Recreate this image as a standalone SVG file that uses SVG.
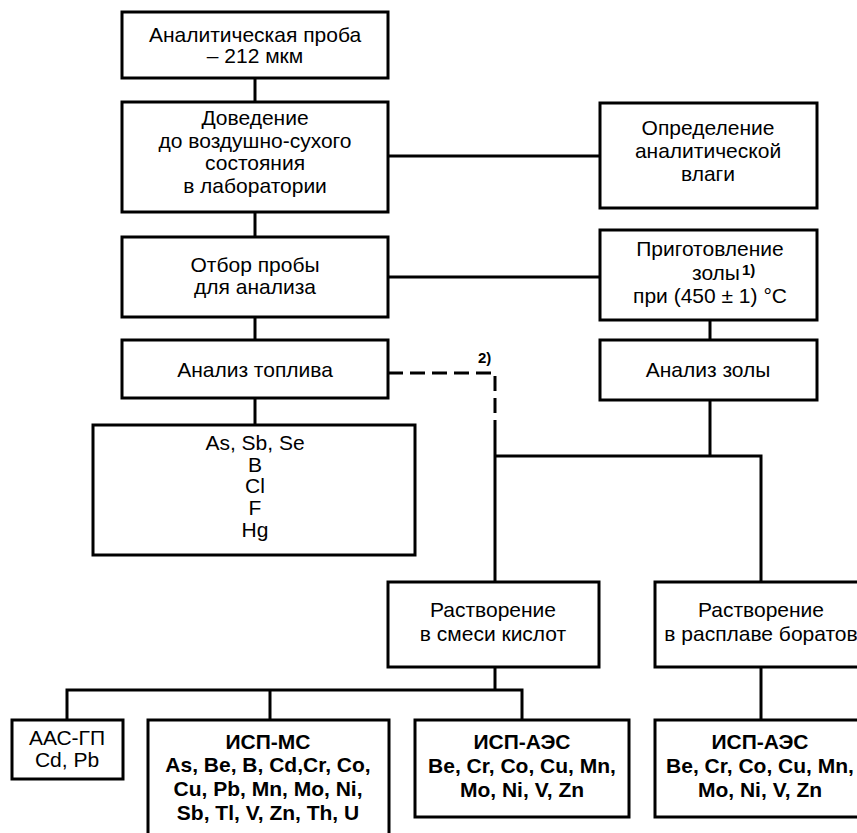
<svg xmlns="http://www.w3.org/2000/svg" width="857" height="833" viewBox="0 0 857 833">
<style>
.box{fill:#fff;stroke:#000;stroke-width:3}
.t{font-family:"Liberation Sans",Arial,sans-serif;font-size:21px;text-anchor:middle;fill:#000}
.b{font-weight:bold;font-size:21px}
.ln{fill:none;stroke:#000;stroke-width:3}
.dash{stroke-dasharray:15 7}
.sup{font-family:"Liberation Sans",Arial,sans-serif;font-size:15px;font-weight:bold;fill:#000}
</style>
<rect width="857" height="833" fill="#fff"/>
<g id="connectors">
<path class="ln" d="M255 78V102"/>
<path class="ln" d="M388 156H600"/>
<path class="ln" d="M255 212V237"/>
<path class="ln" d="M388 277H600"/>
<path class="ln" d="M255 317V340"/>
<path class="ln" d="M710 320V340"/>
<path class="ln" d="M255 398V425"/>
<path class="ln dash" d="M388 373H495V430"/>
<path class="ln" d="M495 430V582"/>
<path class="ln" d="M710 400V456"/>
<path class="ln" d="M495 456H761V582"/>
<path class="ln" d="M495 667V690"/>
<path class="ln" d="M67 720V690H522V720"/>
<path class="ln" d="M270 690V720"/>
<path class="ln" d="M761 667V720"/>
<text class="sup" x="478" y="363">2)</text>
</g>
<g id="n1"><rect class="box" x="122" y="12" width="266" height="66"/>
<text class="t" x="255" y="42">Аналитическая проба</text><text class="t" x="255" y="63">– 212 мкм</text></g>
<g id="n2"><rect class="box" x="122" y="102" width="266" height="110"/>
<text class="t" x="255" y="125">Доведение</text><text class="t" x="255" y="148">до воздушно-сухого</text><text class="t" x="255" y="170">состояния</text><text class="t" x="255" y="193">в лаборатории</text></g>
<g id="n3"><rect class="box" x="600" y="103" width="217" height="105"/>
<text class="t" x="708" y="135">Определение</text><text class="t" x="708" y="158">аналитической</text><text class="t" x="708" y="181">влаги</text></g>
<g id="n4"><rect class="box" x="122" y="237" width="266" height="80"/>
<text class="t" x="255" y="272">Отбор пробы</text><text class="t" x="255" y="294">для анализа</text></g>
<g id="n5"><rect class="box" x="600" y="230" width="217" height="90"/>
<text class="t" x="710" y="256">Приготовление</text><text class="t" x="692" y="280" style="text-anchor:start">золы<tspan class="sup" font-size="13" dx="2" dy="-5">1)</tspan></text><text class="t" x="710" y="303">при (450 ± 1) °C</text></g>
<g id="n6"><rect class="box" x="122" y="340" width="266" height="58"/>
<text class="t" x="255" y="377">Анализ топлива</text></g>
<g id="n7"><rect class="box" x="600" y="340" width="217" height="60"/>
<text class="t" x="708" y="377">Анализ золы</text></g>
<g id="n8"><rect class="box" x="93" y="425" width="322" height="130"/>
<text class="t" x="255" y="450">As, Sb, Se</text><text class="t" x="255" y="472">B</text><text class="t" x="255" y="493">Cl</text><text class="t" x="255" y="515">F</text><text class="t" x="255" y="537">Hg</text></g>
<g id="n9"><rect class="box" x="388" y="582" width="211" height="85"/>
<text class="t" x="493" y="617">Растворение</text><text class="t" x="493" y="641">в смеси кислот</text></g>
<g id="n10"><rect class="box" x="655" y="582" width="212" height="85"/>
<text class="t" x="761" y="617">Растворение</text><text class="t" x="761" y="641">в расплаве боратов</text></g>
<g id="n11"><rect class="box" x="12" y="720" width="111" height="59"/>
<text class="t" x="67" y="745">ААС-ГП</text><text class="t" x="67" y="767">Cd, Pb</text></g>
<g id="n12"><rect class="box" x="148" y="720" width="241" height="130"/>
<text class="t b" x="268" y="749">ИСП-МС</text><text class="t b" x="268" y="772">As, Be, B, Cd,Cr, Co,</text><text class="t b" x="268" y="796">Cu, Pb, Mn, Mo, Ni,</text><text class="t b" x="268" y="820">Sb, Tl, V, Zn, Th, U</text></g>
<g id="n13"><rect class="box" x="415" y="720" width="214" height="97"/>
<text class="t b" x="522" y="749">ИСП-АЭС</text><text class="t b" x="522" y="773">Be, Cr, Co, Cu, Mn,</text><text class="t b" x="522" y="797">Mo, Ni, V, Zn</text></g>
<g id="n14"><rect class="box" x="655" y="720" width="212" height="97"/>
<text class="t b" x="760" y="749">ИСП-АЭС</text><text class="t b" x="760" y="773">Be, Cr, Co, Cu, Mn,</text><text class="t b" x="760" y="797">Mo, Ni, V, Zn</text></g>
</svg>
